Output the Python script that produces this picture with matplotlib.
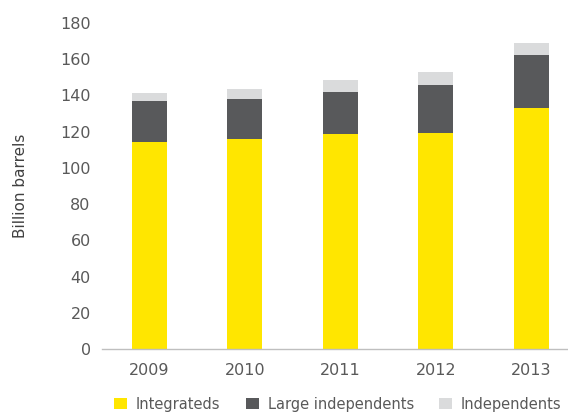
import numpy as np
import matplotlib.pyplot as plt

years = ['2009', '2010', '2011', '2012', '2013']
integrateds = [114.3, 116.0, 118.7, 119.3, 133.1]
large_indep = [22.7, 22.0, 23.2, 26.5, 29.2]
independents = [4.3, 5.6, 6.6, 7.2, 6.7]

yellow = '#FFE600'
dark = '#58595B'
light = '#DADBDC'
txt = '#595959'

plt.rcParams['font.family'] = ['DejaVu Sans']

fig = plt.figure(figsize=(5.68, 4.12), dpi=100)
ax = fig.add_axes([101.75 / 568, 1 - 349 / 412, 1 - 101.75 / 568, 326 / 412])

x = np.arange(len(years))
w = 0.366
b1 = ax.bar(x, integrateds, w, color=yellow, label='Integrateds')
bottom2 = np.array(integrateds)
b2 = ax.bar(x, large_indep, w, bottom=bottom2, color=dark, label='Large independents')
bottom3 = bottom2 + np.array(large_indep)
b3 = ax.bar(x, independents, w, bottom=bottom3, color=light, label='Independents')

ax.set_xlim(-0.5, 4.385)
ax.set_ylim(0, 180)
ax.set_yticks(range(0, 181, 20))
ax.set_xticks(x)
ax.set_xticklabels(years)
ax.tick_params(axis='both', length=0, labelsize=11.5, labelcolor=txt)
ax.tick_params(axis='y', pad=8)
ax.tick_params(axis='x', pad=10)
for s in ['top', 'right', 'left']:
    ax.spines[s].set_visible(False)
ax.spines['bottom'].set_color('#BFBFBF')
ax.spines['bottom'].set_linewidth(1)
ax.set_ylabel('Billion barrels', fontsize=11, color='#404040', labelpad=23)

fig.legend(handles=[b1, b2, b3], loc='center', bbox_to_anchor=(338 / 568, 1 - 404 / 412),
           ncol=3, frameon=False, fontsize=10.5, labelcolor=txt,
           handlelength=0.88, handleheight=0.88, handletextpad=0.6, columnspacing=1.75,
           borderaxespad=0, borderpad=0)

fig.savefig('out.png', dpi=100)
